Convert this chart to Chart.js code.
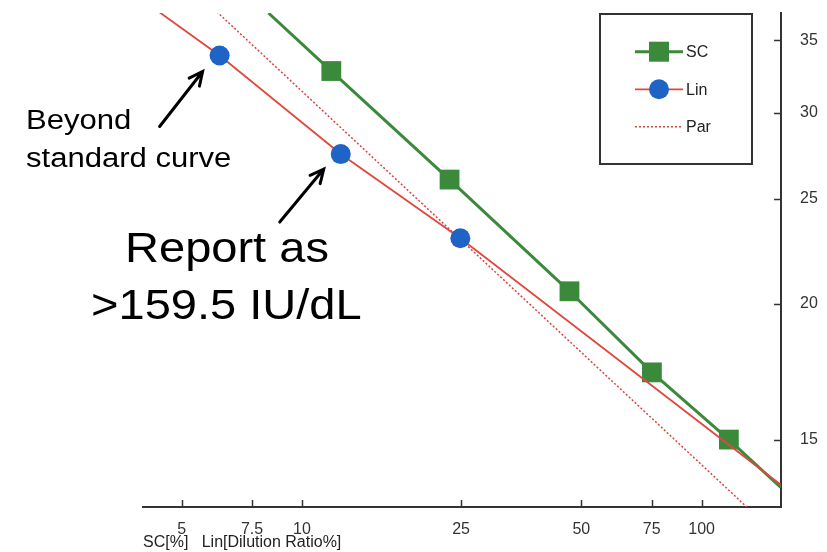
<!DOCTYPE html>
<html>
<head>
<meta charset="utf-8">
<script src="https://cdn.jsdelivr.net/npm/chart.js@4.4.0/dist/chart.umd.min.js"></script>
<style>
html, body { margin: 0; padding: 0; background: #fff; }
#wrap { width: 827px; height: 552px; position: relative; }
</style>
</head>
<body>
<div id="wrap"><canvas id="chartcanvas"></canvas></div>
<script>
// values (x = dilution %, y = result, both log axes)
var scX = [8.24, 11.84, 23.4, 46.7, 75.1, 117, 157.8];
var scY = [37.1, 32.8, 26.05, 20.55, 17.3, 15.0, 13.55];
var scMarks = [0, 1, 1, 1, 1, 1, 0];

var linX = [4.38, 6.22, 12.5, 24.9, 157.8];
var linY = [37.2, 33.9, 27.5, 23.0, 13.63];
var linMarks = [0, 1, 1, 1, 0];

var parX = [6.12, 129.7];
var parY = [37.2, 13.0];

var xTicks = [5, 7.5, 10, 25, 50, 75, 100];
var yTicks = [15, 20, 25, 30, 35];

var FONT = "'Liberation Sans', Arial, sans-serif";

function pts(xs, ys) {
	var out = [];
	for (var i in xs) {
		out.push({x: xs[i], y: ys[i]});
	}
	return out;
}

// inward tick marks on both axes
var innerTicks = {
	id: 'innerTicks',
	afterDraw: function(chart) {
		var ctx = chart.ctx;
		var a = chart.chartArea;
		var sx = chart.scales.x, sy = chart.scales.y;
		ctx.save();
		ctx.strokeStyle = '#333';
		ctx.lineWidth = 1.5;
		ctx.beginPath();
		xTicks.forEach(function(v) {
			var px = Math.round(sx.getPixelForValue(v)) + 0.5;
			ctx.moveTo(px, a.bottom);
			ctx.lineTo(px, a.bottom - 7);
		});
		yTicks.forEach(function(v) {
			var py = Math.round(sy.getPixelForValue(v)) + 0.5;
			ctx.moveTo(a.right, py);
			ctx.lineTo(a.right - 7, py);
		});
		ctx.stroke();
		ctx.restore();
	}
};

// boxed legend in the upper right corner
var boxLegend = {
	id: 'boxLegend',
	afterDraw: function(chart) {
		var ctx = chart.ctx;
		var left = 600, top = 14, w = 152, h = 150;
		ctx.save();
		ctx.strokeStyle = '#333';
		ctx.lineWidth = 2;
		ctx.strokeRect(left, top, w, h);
		var rows = [51.7, 89.3, 126.7];
		chart.data.datasets.forEach(function(ds, i) {
			var y = rows[ds.legendRow];
			ctx.save();
			ctx.strokeStyle = ds.borderColor;
			ctx.lineWidth = ds.borderWidth;
			ctx.setLineDash(ds.borderDash || []);
			ctx.beginPath();
			ctx.moveTo(635, y);
			ctx.lineTo(683, y);
			ctx.stroke();
			ctx.restore();
			if (ds.legendMark) {
				ctx.fillStyle = ds.pointBackgroundColor;
				if (ds.legendMark === 'rect') {
					ctx.fillRect(659 - 10, y - 10, 20, 20);
				} else {
					ctx.beginPath();
					ctx.arc(659, y, 10, 0, Math.PI * 2);
					ctx.fill();
				}
			}
			ctx.fillStyle = '#222';
			ctx.font = '16px ' + FONT;
			ctx.textBaseline = 'middle';
			ctx.fillText(ds.label, 686, y + 1);
		});
		ctx.restore();
	}
};

function arrow(ctx, x1, y1, x2, y2) {
	var ang = Math.atan2(y2 - y1, x2 - x1);
	var hl = 15;
	ctx.beginPath();
	ctx.moveTo(x1, y1);
	ctx.lineTo(x2, y2);
	ctx.moveTo(x2 - hl * Math.cos(ang - 0.45), y2 - hl * Math.sin(ang - 0.45));
	ctx.lineTo(x2, y2);
	ctx.lineTo(x2 - hl * Math.cos(ang + 0.45), y2 - hl * Math.sin(ang + 0.45));
	ctx.stroke();
}

function stretchText(ctx, txt, x, y, sx) {
	ctx.save();
	ctx.translate(x, y);
	ctx.scale(sx, 1);
	ctx.fillText(txt, 0, 0);
	ctx.restore();
}

// callouts pointing at the two off-curve Lin points
var callouts = {
	id: 'callouts',
	afterDraw: function(chart) {
		var ctx = chart.ctx;
		var sx = chart.scales.x, sy = chart.scales.y;
		var p1x = sx.getPixelForValue(linX[1]), p1y = sy.getPixelForValue(linY[1]);
		var p2x = sx.getPixelForValue(linX[2]), p2y = sy.getPixelForValue(linY[2]);
		ctx.save();
		ctx.strokeStyle = '#000';
		ctx.lineWidth = 3;
		ctx.lineCap = 'round';
		ctx.lineJoin = 'miter';
		arrow(ctx, p1x - 60, p1y + 71, p1x - 17, p1y + 16);
		arrow(ctx, p2x - 61, p2y + 68, p2x - 17, p2y + 15);
		ctx.fillStyle = '#000';
		ctx.textBaseline = 'alphabetic';
		ctx.font = '27px ' + FONT;
		stretchText(ctx, 'Beyond', 26, 129, 1.15);
		stretchText(ctx, 'standard curve', 26, 167, 1.15);
		ctx.font = '42px ' + FONT;
		stretchText(ctx, 'Report as', 125, 262, 1.12);
		stretchText(ctx, '>159.5 IU/dL', 91, 319, 1.12);
		ctx.restore();
	}
};

var chartdata = {
	datasets: [
		{
			label: 'Lin',
			legendRow: 1,
			legendMark: 'circle',
			data: pts(linX, linY),
			showLine: true,
			borderColor: '#e2473d',
			borderWidth: 1.8,
			pointStyle: 'circle',
			pointRadius: linMarks.map(function(m) { return m ? 10 : 0; }),
			pointBackgroundColor: '#1f63c6',
			pointBorderColor: '#1f63c6',
			pointBorderWidth: 0,
			order: 0
		},
		{
			label: 'SC',
			legendRow: 0,
			legendMark: 'rect',
			data: pts(scX, scY),
			showLine: true,
			borderColor: '#3b8a3b',
			borderWidth: 3,
			pointStyle: 'rect',
			pointRadius: scMarks.map(function(m) { return m ? 14 : 0; }),
			pointBackgroundColor: '#3b8a3b',
			pointBorderColor: '#3b8a3b',
			pointBorderWidth: 0,
			order: 1
		},
		{
			label: 'Par',
			legendRow: 2,
			data: pts(parX, parY),
			showLine: true,
			borderColor: '#d9453f',
			borderWidth: 1.5,
			borderDash: [2, 2],
			pointRadius: 0,
			order: 2
		}
	]
};

var ctx = document.getElementById('chartcanvas');

var LineGraph = new Chart(ctx, {
	type: 'scatter',
	data: chartdata,
	plugins: [innerTicks, boxLegend, callouts],
	options: {
		responsive: true,
		maintainAspectRatio: false,
		animation: false,
		layout: { padding: { left: 143, top: 13, right: 0, bottom: 0 } },
		plugins: {
			legend: { display: false },
			tooltip: { enabled: false }
		},
		scales: {
			x: {
				type: 'logarithmic',
				position: 'bottom',
				min: 4,
				max: 158,
				afterBuildTicks: function(scale) {
					scale.ticks = xTicks.map(function(v) { return {value: v}; });
				},
				afterFit: function(scale) {
					scale.height = 45;
					scale.paddingLeft = 0;
					scale.paddingRight = 0;
				},
				grid: { display: false, drawTicks: false },
				border: { display: true, color: '#333', width: 2 },
				ticks: {
					padding: 13,
					color: '#333',
					font: { family: FONT, size: 16 },
					callback: function(v) { return String(v); }
				},
				title: {
					display: true,
					text: 'SC[%]   Lin[Dilution Ratio%]',
					align: 'start',
					color: '#222',
					font: { family: FONT, size: 16 },
					padding: { top: 0, bottom: 0 }
				}
			},
			y: {
				type: 'logarithmic',
				position: 'right',
				min: 13,
				max: 37.1,
				afterBuildTicks: function(scale) {
					scale.ticks = yTicks.map(function(v) { return {value: v}; });
				},
				afterFit: function(scale) {
					scale.width = 46;
					scale.paddingTop = 0;
					scale.paddingBottom = 0;
				},
				grid: { display: false, drawTicks: false },
				border: { display: true, color: '#333', width: 2 },
				ticks: {
					padding: 19,
					color: '#333',
					font: { family: FONT, size: 16 },
					callback: function(v) { return String(v); }
				}
			}
		}
	}
});
</script>
</body>
</html>
